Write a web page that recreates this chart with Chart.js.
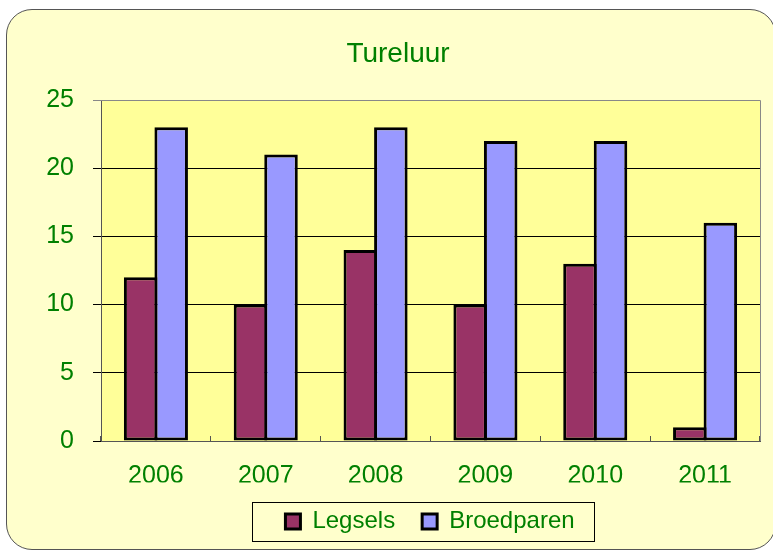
<!DOCTYPE html>
<html lang="nl">
    <head>
        <meta charset="UTF-8" />
        <title>Tureluur</title>
        <script src="https://cdn.jsdelivr.net/npm/chart.js"></script>
        <style>
            html, body { margin: 0; padding: 0; background: #ffffff; overflow: hidden; }
            #kader {
                position: absolute; left: 6px; top: 9px; width: 768px; height: 539px;
                border: 1px solid #555; border-radius: 26px; background: #ffffcc;
            }
            #wrap { position: absolute; left: 0; top: 0; width: 773px; height: 553px; }
        </style>
    </head>
    <body>
        <div id="kader"></div>
        <div id="wrap"><canvas id="tureluur" width="773" height="553"></canvas></div>

        <script>
            // gegevens
            const jaren = ["2006", "2007", "2008", "2009", "2010", "2011"];
            const legsels = [12, 10, 14, 10, 13, 1];
            const broedparen = [23, 21, 23, 22, 22, 16];
            const yTicks = [0, 5, 10, 15, 20, 25];

            const groen = "#008000";

            // achtergrond van het plotvlak + rand
            const plotVlak = {
                id: "plotVlak",
                beforeDraw(chart) {
                    const { ctx, chartArea: a } = chart;
                    ctx.save();
                    ctx.fillStyle = "#ffff99";
                    ctx.fillRect(a.left, a.top, a.right - a.left, a.bottom - a.top);
                    ctx.restore();
                },
                beforeDatasetsDraw(chart) {
                    const { ctx, chartArea: a } = chart;
                    ctx.save();
                    ctx.strokeStyle = "#888888";
                    ctx.lineWidth = 1;
                    ctx.beginPath();
                    ctx.moveTo(a.left, a.top + 0.5);
                    ctx.lineTo(a.right + 0.5, a.top + 0.5);
                    ctx.lineTo(a.right + 0.5, a.bottom);
                    ctx.stroke();
                    ctx.restore();
                },
                // titel en legenda wat verschuiven zoals in het origineel
                afterLayout(chart) {
                    chart.titleBlock.left += 18;
                    chart.titleBlock.right += 18;
                    chart.legend.left += 50;
                    chart.legend.right += 50;
                },
                afterDraw(chart) {
                    const lg = chart.legend;
                    const hb = lg.legendHitBoxes;
                    if (!hb || !hb.length) return;
                    const l = hb[0].left - 33;
                    const r = hb[hb.length - 1].left + hb[hb.length - 1].width + 20;
                    const cy = hb[0].top + hb[0].height / 2;
                    const ctx = chart.ctx;
                    ctx.save();
                    ctx.strokeStyle = "#000";
                    ctx.lineWidth = 1;
                    ctx.strokeRect(Math.round(l) + 0.5, Math.round(cy - 19.5) + 0.5, Math.round(r - l), 39);
                    ctx.restore();
                },
            };

            const ctx = document.getElementById("tureluur").getContext("2d");
            const chart = new Chart(ctx, {
                type: "bar",
                data: {
                    labels: jaren,
                    datasets: [
                        {
                            label: "Legsels",
                            data: legsels,
                            backgroundColor: "#993366",
                            borderColor: "#000",
                            borderWidth: 3,
                            borderSkipped: false,
                        },
                        {
                            label: "Broedparen",
                            data: broedparen,
                            backgroundColor: "#9999ff",
                            borderColor: "#000",
                            borderWidth: 3,
                            borderSkipped: false,
                        },
                    ],
                },
                options: {
                    responsive: false,
                    animation: false,
                    layout: { padding: { left: 0, right: 13, top: 0, bottom: 9.5 } },
                    datasets: { bar: { categoryPercentage: 0.556, barPercentage: 1.098 } },
                    scales: {
                        x: {
                            grid: {
                                display: true,
                                drawOnChartArea: false,
                                drawTicks: true,
                                tickLength: -5,
                                color: "#555",
                            },
                            border: { color: "#555", width: 1 },
                            ticks: {
                                color: groen,
                                padding: 25,
                                font: { family: "'Liberation Sans', Arial, sans-serif", size: 25 },
                            },
                            afterFit(scale) { scale.height = 41.5; },
                        },
                        y: {
                            min: 0,
                            max: 25,
                            afterBuildTicks(scale) { scale.ticks = yTicks.map(v => ({ value: v })); },
                            grid: {
                                color: (c) => (c.tick && c.tick.value === 25 ? "#888888" : "#000000"),
                                tickLength: 8,
                            },
                            border: { color: "#555", width: 1 },
                            ticks: {
                                color: groen,
                                padding: 19,
                                font: { family: "'Liberation Sans', Arial, sans-serif", size: 25 },
                            },
                            afterFit(scale) { scale.width = 101; },
                        },
                    },
                    plugins: {
                        title: {
                            display: true,
                            text: "Tureluur",
                            color: groen,
                            font: { family: "'Liberation Sans', Arial, sans-serif", size: 28, weight: "normal" },
                            padding: { top: 37, bottom: 29.4 },
                        },
                        legend: {
                            position: "bottom",
                            labels: {
                                color: groen,
                                boxWidth: 15,
                                boxHeight: 15,
                                padding: 27,
                                font: { family: "'Liberation Sans', Arial, sans-serif", size: 24 },
                            },
                        },
                        tooltip: { enabled: false },
                    },
                },
                plugins: [plotVlak],
            });
        </script>
    </body>
</html>
